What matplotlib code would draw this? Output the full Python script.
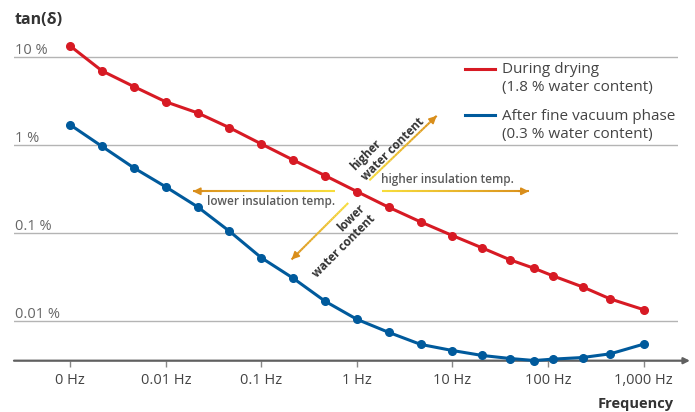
import numpy as np
import matplotlib.pyplot as plt
from matplotlib.collections import LineCollection
from matplotlib.colors import LinearSegmentedColormap
from matplotlib.transforms import blended_transform_factory

plt.rcParams['font.family'] = ['Open Sans', 'DejaVu Sans']

# Frequenzen (Hz) und tan(delta) in %
freq = [0.001, 0.00215, 0.00464, 0.01, 0.0215, 0.0464, 0.1, 0.215, 0.464, 1,
        2.15, 4.64, 10, 20.5, 40.5, 72, 112, 230, 450, 1000]
tan_drying = [13.2, 6.9, 4.57, 3.07, 2.30, 1.56, 1.02, 0.671, 0.446, 0.294,
              0.195, 0.133, 0.093, 0.0673, 0.0491, 0.0394, 0.0325, 0.0243, 0.0177, 0.0134]
tan_vacuum = [1.68, 0.957, 0.545, 0.332, 0.197, 0.104, 0.052, 0.0305, 0.0167, 0.0104,
              0.0074, 0.0054, 0.0046, 0.00404, 0.00373, 0.00354, 0.00367, 0.00383, 0.00422, 0.00543]

xticks = [0.001, 0.01, 0.1, 1, 10, 100, 1000]
xlabels = ['0 Hz', '0.01 Hz', '0.1 Hz', '1 Hz', '10 Hz', '100 Hz', '1,000 Hz']
yticks = [10, 1, 0.1, 0.01]
ylabels = ['10 %', '1 %', '0.1 %', '0.01 %']

label_drying = 'During drying\n(1.8 % water content)'
label_vacuum = 'After fine vacuum phase\n(0.3 % water content)'

red = '#d71a24'
blue = '#005a9c'
gray_txt = '#5a5a5a'

fig = plt.figure(figsize=(6.95, 4.12), dpi=100)
ax = fig.add_axes([0.02014, 0.12451, 0.95540, 0.80267])
ax.set_xscale('log')
ax.set_yscale('log')
ax.set_xlim(10**-3.589, 10**3.361)
ax.set_ylim(10**-2.453, 10**1.303)

# Gitterlinien
for yv in yticks:
    ax.axhline(yv, color='#b4b4b4', lw=1.0, zorder=0)
ytrans = blended_transform_factory(ax.transAxes, ax.transData)
for yv, lab in zip(yticks, ylabels):
    ax.annotate(lab, xy=(0, yv), xycoords=ytrans, xytext=(1, 2), textcoords='offset points',
                ha='left', va='baseline', fontsize=10.5, color='#666666')

for s in ax.spines.values():
    s.set_visible(False)
ax.set_yticks([])
ax.minorticks_off()
ax.set_xticks(xticks)
ax.set_xticklabels(xlabels)
ax.tick_params(axis='x', direction='out', length=4, width=1, color='#888888',
               labelsize=10.5, labelcolor='#444444', pad=5)
ax.tick_params(axis='y', which='both', length=0)

# x-Achse mit Pfeil
ax.annotate('', xy=(1.018, 0), xycoords='axes fraction', xytext=(0, 0),
            arrowprops=dict(arrowstyle='-|>', color='#606060', lw=1.6,
                            mutation_scale=9, shrinkA=0, shrinkB=0), annotation_clip=False)

# Kurven
ax.plot(freq, tan_drying, color=red, lw=2.2, marker='o', ms=5.5, zorder=4, clip_on=False)
ax.plot(freq, tan_vacuum, color=blue, lw=2.2, marker='o', ms=5.5, zorder=4, clip_on=False)

# Legende
ax.plot([0.6792, 0.7244], [0.8821, 0.8821], color=red, lw=2.2, transform=ax.transAxes, clip_on=False)
ax.plot([0.6792, 0.7244], [0.7418, 0.7418], color=blue, lw=2.2, transform=ax.transAxes, clip_on=False)
ax.text(0.7349, 0.8527, label_drying, transform=ax.transAxes, fontsize=11, color='#444444',
        va='center', ha='left', linespacing=1.3)
ax.text(0.7349, 0.7118, label_vacuum, transform=ax.transAxes, fontsize=11, color='#444444',
        va='center', ha='left', linespacing=1.3)

# Pfeile mit Farbverlauf
cmap = LinearSegmentedColormap.from_list('gelb', ['#f7dc3c', '#d98e1b'])

def grad_arrow(x0, y0, x1, y1):
    t = np.linspace(0, 1, 30)
    xs = 10**(np.log10(x0) + t*(np.log10(x1) - np.log10(x0)))
    ys = 10**(np.log10(y0) + t*(np.log10(y1) - np.log10(y0)))
    pts = np.column_stack([xs, ys]).reshape(-1, 1, 2)
    segs = np.concatenate([pts[:-1], pts[1:]], axis=1)
    lc = LineCollection(segs, colors=cmap(t[:-1]), linewidths=1.5, zorder=3)
    ax.add_collection(lc)
    ax.annotate('', xy=(x1, y1), xytext=(xs[-3], ys[-3]),
                arrowprops=dict(arrowstyle='-|>', color='#d98e1b', lw=1.2,
                                mutation_scale=11, shrinkA=0, shrinkB=0))

grad_arrow(1.83, 0.296, 63, 0.296)
grad_arrow(0.589, 0.296, 0.0192, 0.296)
grad_arrow(1.35, 0.394, 6.84, 2.13)
grad_arrow(0.811, 0.218, 0.207, 0.0497)

ax.annotate('higher insulation temp.', xy=(8.97, 0.296), xytext=(0, 4), textcoords='offset points',
            ha='center', va='bottom', fontsize=8.5, fontweight='semibold', color=gray_txt)
ax.annotate('lower insulation temp.', xy=(0.126, 0.296), xytext=(0, -3), textcoords='offset points',
            ha='center', va='top', fontsize=8.5, fontweight='semibold', color=gray_txt)
ax.text(2.09, 1.013, 'higher\nwater content', rotation=45, ha='center', va='center',
        multialignment='left', fontsize=8.5, fontweight='bold', color='#333333', linespacing=1.15)
ax.text(0.648, 0.0816, 'lower\nwater content', rotation=45, ha='center', va='center',
        multialignment='right', fontsize=8.5, fontweight='bold', color='#333333', linespacing=1.15)

fig.text(15/695, 1 - 20/412, 'tan(δ)', fontsize=11.5, fontweight='bold', color='#333333',
         ha='left', va='center')
fig.text(674/695, 1 - 404/412, 'Frequency', fontsize=10.5, fontweight='bold', color='#333333',
         ha='right', va='center')

fig.savefig('out.png', dpi=100)
